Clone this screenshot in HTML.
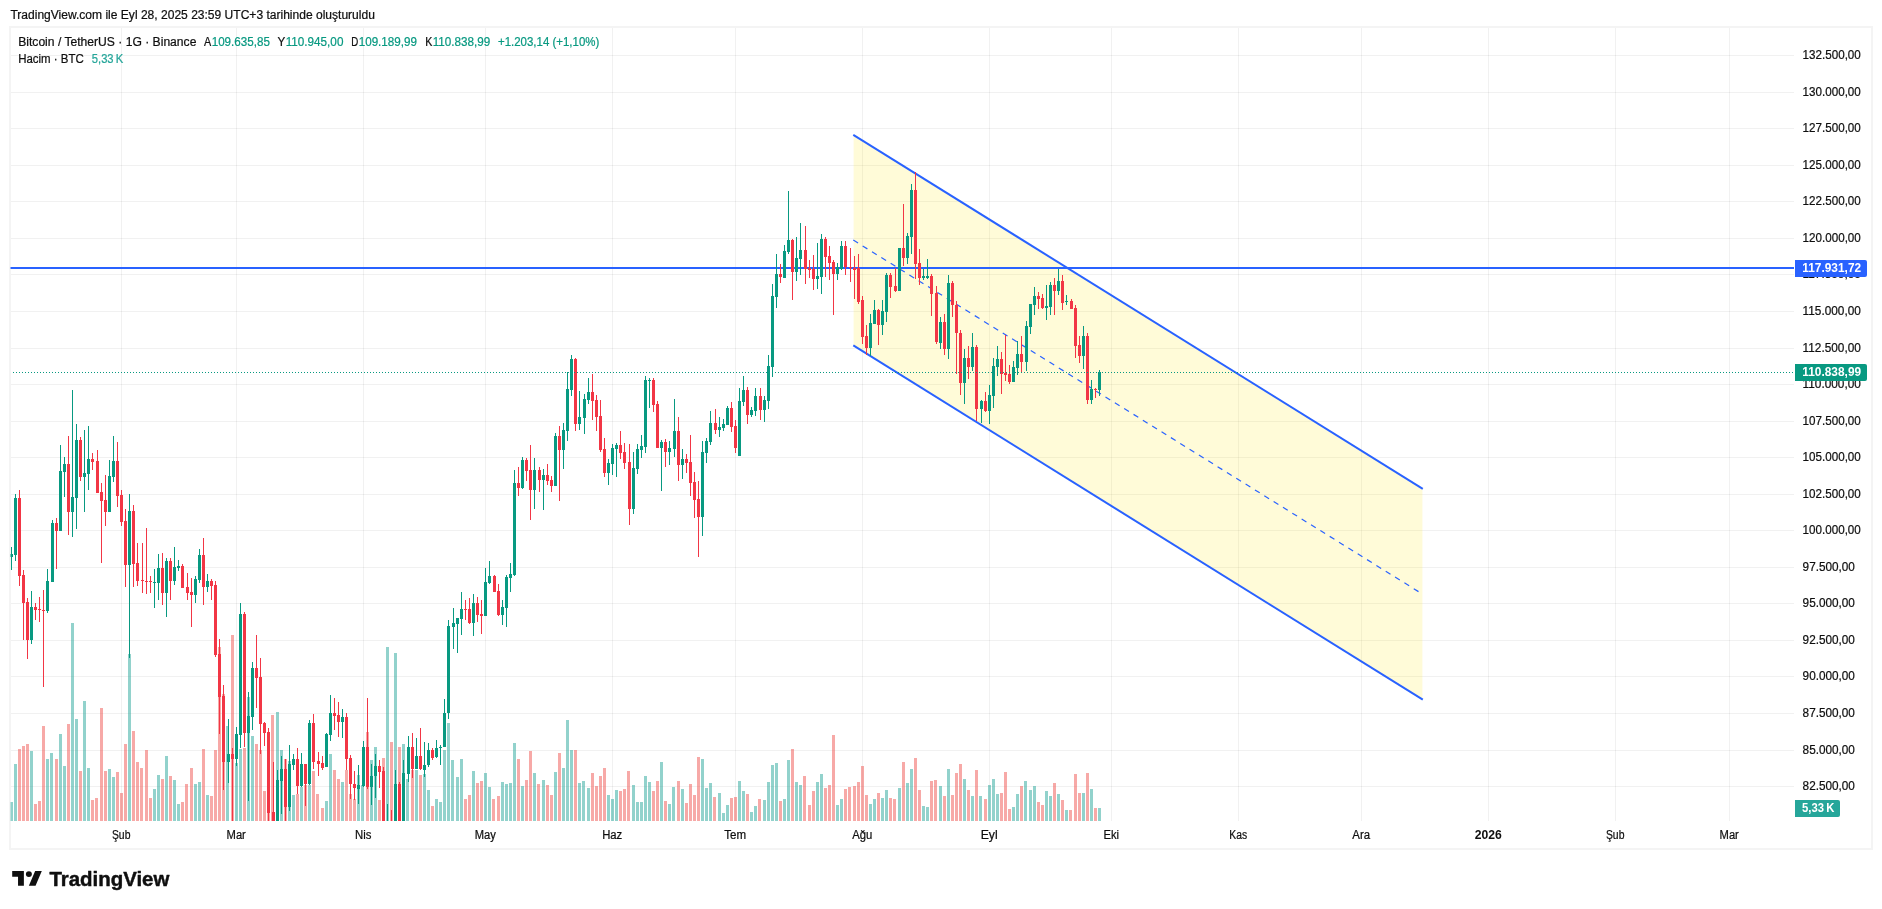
<!DOCTYPE html><html><head><meta charset="utf-8"><title>BTCUSDT</title><style>
html,body{margin:0;padding:0;background:#fff;overflow:hidden}
svg{display:block;will-change:transform;font-family:"Liberation Sans",sans-serif}
text{font-family:"Liberation Sans",sans-serif;font-size:12px;fill:#0f0f0f;stroke:#0f0f0f;stroke-width:0.22px}
.b{font-weight:bold;stroke:none}.w{fill:#fff;stroke:none}.g{fill:#089981;stroke:#089981}.t{fill:#26a69a;stroke:#26a69a}
</style></head><body>
<svg width="1882" height="909" viewBox="0 0 1882 909">
<rect width="1882" height="909" fill="#fff"/>
<g shape-rendering="crispEdges">
<g fill="#f4f4f4"><rect x="9" y="26" width="1864" height="2"/><rect x="9" y="848" width="1864" height="2"/><rect x="9" y="26" width="2" height="824"/><rect x="1871" y="26" width="2" height="824"/></g>
<g fill="rgba(20,20,20,0.06)"><rect x="121" y="28" width="1" height="793" /><rect x="236" y="28" width="1" height="793" /><rect x="363" y="28" width="1" height="793" /><rect x="485" y="28" width="1" height="793" /><rect x="612" y="28" width="1" height="793" /><rect x="735" y="28" width="1" height="793" /><rect x="862" y="28" width="1" height="793" /><rect x="989" y="28" width="1" height="793" /><rect x="1111" y="28" width="1" height="793" /><rect x="1238" y="28" width="1" height="793" /><rect x="1361" y="28" width="1" height="793" /><rect x="1488" y="28" width="1" height="793" /><rect x="1615" y="28" width="1" height="793" /><rect x="1729" y="28" width="1" height="793" /><rect x="11" y="55" width="1783" height="1" /><rect x="11" y="92" width="1783" height="1" /><rect x="11" y="128" width="1783" height="1" /><rect x="11" y="165" width="1783" height="1" /><rect x="11" y="201" width="1783" height="1" /><rect x="11" y="238" width="1783" height="1" /><rect x="11" y="274" width="1783" height="1" /><rect x="11" y="311" width="1783" height="1" /><rect x="11" y="348" width="1783" height="1" /><rect x="11" y="384" width="1783" height="1" /><rect x="11" y="421" width="1783" height="1" /><rect x="11" y="457" width="1783" height="1" /><rect x="11" y="494" width="1783" height="1" /><rect x="11" y="530" width="1783" height="1" /><rect x="11" y="567" width="1783" height="1" /><rect x="11" y="603" width="1783" height="1" /><rect x="11" y="640" width="1783" height="1" /><rect x="11" y="676" width="1783" height="1" /><rect x="11" y="713" width="1783" height="1" /><rect x="11" y="750" width="1783" height="1" /><rect x="11" y="786" width="1783" height="1" /></g>
</g>
<defs><clipPath id="pane"><rect x="10.5" y="27.5" width="1783.5" height="793.5"/></clipPath></defs>
<g clip-path="url(#pane)">
<polygon points="853.6,134.9 1422.4,488.9 1422.4,699.7 853.6,345.4" fill="rgba(255,235,59,0.2)"/>
<g stroke="#2962ff" fill="none">
<line x1="853.3" y1="134.9" x2="1422.8" y2="488.9" stroke-width="2"/>
<line x1="853.3" y1="345.4" x2="1422.8" y2="699.7" stroke-width="2"/>
<line x1="853.3" y1="240.1" x2="1422.8" y2="594.3" stroke-width="1.2" stroke-dasharray="5.6 5.4"/>
</g>
<rect x="10" y="267" width="1784" height="2" fill="#2962ff" shape-rendering="crispEdges"/>
<g shape-rendering="crispEdges">
<g fill="rgba(38,166,154,0.5)"><rect x="10" y="802" width="3" height="19"/><rect x="14" y="764" width="3" height="57"/><rect x="30" y="751" width="3" height="70"/><rect x="46" y="759" width="3" height="62"/><rect x="50" y="753" width="3" height="68"/><rect x="59" y="734" width="3" height="87"/><rect x="63" y="766" width="3" height="55"/><rect x="71" y="623" width="3" height="198"/><rect x="75" y="719" width="3" height="102"/><rect x="83" y="701" width="3" height="120"/><rect x="87" y="768" width="3" height="53"/><rect x="108" y="769" width="3" height="52"/><rect x="112" y="777" width="3" height="44"/><rect x="128" y="654" width="3" height="167"/><rect x="153" y="789" width="3" height="32"/><rect x="157" y="775" width="3" height="46"/><rect x="165" y="756" width="3" height="65"/><rect x="173" y="780" width="3" height="41"/><rect x="177" y="804" width="3" height="17"/><rect x="194" y="784" width="3" height="37"/><rect x="198" y="782" width="3" height="39"/><rect x="206" y="795" width="3" height="26"/><rect x="226" y="726" width="3" height="95"/><rect x="235" y="763" width="3" height="58"/><rect x="239" y="749" width="3" height="72"/><rect x="247" y="697" width="3" height="124"/><rect x="251" y="736" width="3" height="85"/><rect x="276" y="712" width="3" height="109"/><rect x="280" y="750" width="3" height="71"/><rect x="288" y="761" width="3" height="60"/><rect x="292" y="795" width="3" height="26"/><rect x="300" y="787" width="3" height="34"/><rect x="308" y="785" width="3" height="36"/><rect x="325" y="801" width="3" height="20"/><rect x="329" y="754" width="3" height="67"/><rect x="341" y="782" width="3" height="39"/><rect x="357" y="775" width="3" height="46"/><rect x="361" y="785" width="3" height="36"/><rect x="370" y="760" width="3" height="61"/><rect x="374" y="747" width="3" height="74"/><rect x="386" y="647" width="3" height="174"/><rect x="394" y="653" width="3" height="168"/><rect x="402" y="744" width="3" height="77"/><rect x="406" y="779" width="3" height="42"/><rect x="415" y="770" width="3" height="51"/><rect x="423" y="774" width="3" height="47"/><rect x="427" y="790" width="3" height="31"/><rect x="435" y="799" width="3" height="22"/><rect x="439" y="802" width="3" height="19"/><rect x="443" y="750" width="3" height="71"/><rect x="447" y="723" width="3" height="98"/><rect x="451" y="760" width="3" height="61"/><rect x="456" y="777" width="3" height="44"/><rect x="460" y="759" width="3" height="62"/><rect x="472" y="771" width="3" height="50"/><rect x="484" y="773" width="3" height="48"/><rect x="488" y="787" width="3" height="34"/><rect x="501" y="782" width="3" height="39"/><rect x="505" y="784" width="3" height="37"/><rect x="509" y="783" width="3" height="38"/><rect x="513" y="743" width="3" height="78"/><rect x="521" y="786" width="3" height="35"/><rect x="533" y="773" width="3" height="48"/><rect x="542" y="780" width="3" height="41"/><rect x="554" y="772" width="3" height="49"/><rect x="562" y="768" width="3" height="53"/><rect x="566" y="720" width="3" height="101"/><rect x="570" y="750" width="3" height="71"/><rect x="578" y="783" width="3" height="38"/><rect x="582" y="781" width="3" height="40"/><rect x="587" y="788" width="3" height="33"/><rect x="607" y="795" width="3" height="26"/><rect x="611" y="799" width="3" height="22"/><rect x="615" y="790" width="3" height="31"/><rect x="632" y="785" width="3" height="36"/><rect x="636" y="802" width="3" height="19"/><rect x="640" y="802" width="3" height="19"/><rect x="644" y="776" width="3" height="45"/><rect x="648" y="782" width="3" height="39"/><rect x="660" y="762" width="3" height="59"/><rect x="668" y="804" width="3" height="17"/><rect x="672" y="787" width="3" height="34"/><rect x="681" y="789" width="3" height="32"/><rect x="701" y="759" width="3" height="62"/><rect x="705" y="788" width="3" height="33"/><rect x="709" y="783" width="3" height="38"/><rect x="718" y="793" width="3" height="28"/><rect x="722" y="813" width="3" height="8"/><rect x="726" y="805" width="3" height="16"/><rect x="738" y="781" width="3" height="40"/><rect x="742" y="791" width="3" height="30"/><rect x="750" y="812" width="3" height="9"/><rect x="754" y="806" width="3" height="15"/><rect x="763" y="800" width="3" height="21"/><rect x="767" y="782" width="3" height="39"/><rect x="771" y="765" width="3" height="56"/><rect x="775" y="763" width="3" height="58"/><rect x="783" y="799" width="3" height="22"/><rect x="787" y="760" width="3" height="61"/><rect x="795" y="782" width="3" height="39"/><rect x="799" y="785" width="3" height="36"/><rect x="816" y="782" width="3" height="39"/><rect x="820" y="774" width="3" height="47"/><rect x="836" y="805" width="3" height="16"/><rect x="840" y="799" width="3" height="22"/><rect x="869" y="804" width="3" height="17"/><rect x="873" y="799" width="3" height="22"/><rect x="881" y="798" width="3" height="23"/><rect x="885" y="790" width="3" height="31"/><rect x="898" y="788" width="3" height="33"/><rect x="906" y="783" width="3" height="38"/><rect x="910" y="769" width="3" height="52"/><rect x="922" y="806" width="3" height="15"/><rect x="926" y="807" width="3" height="14"/><rect x="939" y="786" width="3" height="35"/><rect x="947" y="769" width="3" height="52"/><rect x="963" y="779" width="3" height="42"/><rect x="971" y="796" width="3" height="25"/><rect x="979" y="796" width="3" height="25"/><rect x="988" y="785" width="3" height="36"/><rect x="992" y="779" width="3" height="42"/><rect x="996" y="794" width="3" height="27"/><rect x="1012" y="807" width="3" height="14"/><rect x="1016" y="794" width="3" height="27"/><rect x="1024" y="781" width="3" height="40"/><rect x="1029" y="790" width="3" height="31"/><rect x="1033" y="786" width="3" height="35"/><rect x="1045" y="791" width="3" height="30"/><rect x="1049" y="796" width="3" height="25"/><rect x="1057" y="794" width="3" height="27"/><rect x="1065" y="810" width="3" height="11"/><rect x="1082" y="793" width="3" height="28"/><rect x="1090" y="789" width="3" height="32"/><rect x="1098" y="808" width="3" height="13"/></g>
<g fill="rgba(239,83,80,0.5)"><rect x="18" y="749" width="3" height="72"/><rect x="22" y="746" width="3" height="75"/><rect x="26" y="744" width="3" height="77"/><rect x="34" y="804" width="3" height="17"/><rect x="38" y="801" width="3" height="20"/><rect x="42" y="726" width="3" height="95"/><rect x="55" y="759" width="3" height="62"/><rect x="67" y="724" width="3" height="97"/><rect x="79" y="771" width="3" height="50"/><rect x="91" y="800" width="3" height="21"/><rect x="95" y="798" width="3" height="23"/><rect x="100" y="708" width="3" height="113"/><rect x="104" y="771" width="3" height="50"/><rect x="116" y="772" width="3" height="49"/><rect x="120" y="793" width="3" height="28"/><rect x="124" y="744" width="3" height="77"/><rect x="132" y="731" width="3" height="90"/><rect x="136" y="762" width="3" height="59"/><rect x="140" y="768" width="3" height="53"/><rect x="145" y="750" width="3" height="71"/><rect x="149" y="798" width="3" height="23"/><rect x="161" y="779" width="3" height="42"/><rect x="169" y="776" width="3" height="45"/><rect x="181" y="802" width="3" height="19"/><rect x="185" y="784" width="3" height="37"/><rect x="190" y="768" width="3" height="53"/><rect x="202" y="749" width="3" height="72"/><rect x="210" y="796" width="3" height="25"/><rect x="214" y="750" width="3" height="71"/><rect x="218" y="647" width="3" height="174"/><rect x="222" y="694" width="3" height="127"/><rect x="231" y="635" width="3" height="186"/><rect x="243" y="748" width="3" height="73"/><rect x="255" y="744" width="3" height="77"/><rect x="259" y="750" width="3" height="71"/><rect x="263" y="791" width="3" height="30"/><rect x="267" y="779" width="3" height="42"/><rect x="271" y="715" width="3" height="106"/><rect x="284" y="759" width="3" height="62"/><rect x="296" y="794" width="3" height="27"/><rect x="304" y="785" width="3" height="36"/><rect x="312" y="771" width="3" height="50"/><rect x="316" y="794" width="3" height="27"/><rect x="321" y="808" width="3" height="13"/><rect x="333" y="770" width="3" height="51"/><rect x="337" y="779" width="3" height="42"/><rect x="345" y="770" width="3" height="51"/><rect x="349" y="794" width="3" height="27"/><rect x="353" y="799" width="3" height="22"/><rect x="366" y="732" width="3" height="89"/><rect x="378" y="800" width="3" height="21"/><rect x="382" y="758" width="3" height="63"/><rect x="390" y="742" width="3" height="79"/><rect x="398" y="747" width="3" height="74"/><rect x="411" y="770" width="3" height="51"/><rect x="419" y="775" width="3" height="46"/><rect x="431" y="806" width="3" height="15"/><rect x="464" y="799" width="3" height="22"/><rect x="468" y="795" width="3" height="26"/><rect x="476" y="783" width="3" height="38"/><rect x="480" y="781" width="3" height="40"/><rect x="492" y="799" width="3" height="22"/><rect x="497" y="796" width="3" height="25"/><rect x="517" y="759" width="3" height="62"/><rect x="525" y="780" width="3" height="41"/><rect x="529" y="751" width="3" height="70"/><rect x="537" y="784" width="3" height="37"/><rect x="546" y="785" width="3" height="36"/><rect x="550" y="795" width="3" height="26"/><rect x="558" y="753" width="3" height="68"/><rect x="574" y="750" width="3" height="71"/><rect x="591" y="773" width="3" height="48"/><rect x="595" y="786" width="3" height="35"/><rect x="599" y="776" width="3" height="45"/><rect x="603" y="768" width="3" height="53"/><rect x="619" y="791" width="3" height="30"/><rect x="623" y="789" width="3" height="32"/><rect x="627" y="771" width="3" height="50"/><rect x="652" y="791" width="3" height="30"/><rect x="656" y="781" width="3" height="40"/><rect x="664" y="801" width="3" height="20"/><rect x="677" y="781" width="3" height="40"/><rect x="685" y="803" width="3" height="18"/><rect x="689" y="784" width="3" height="37"/><rect x="693" y="795" width="3" height="26"/><rect x="697" y="757" width="3" height="64"/><rect x="713" y="797" width="3" height="24"/><rect x="730" y="798" width="3" height="23"/><rect x="734" y="797" width="3" height="24"/><rect x="746" y="794" width="3" height="27"/><rect x="758" y="799" width="3" height="22"/><rect x="779" y="801" width="3" height="20"/><rect x="791" y="749" width="3" height="72"/><rect x="803" y="776" width="3" height="45"/><rect x="808" y="805" width="3" height="16"/><rect x="812" y="791" width="3" height="30"/><rect x="824" y="788" width="3" height="33"/><rect x="828" y="785" width="3" height="36"/><rect x="832" y="735" width="3" height="86"/><rect x="844" y="789" width="3" height="32"/><rect x="848" y="787" width="3" height="34"/><rect x="853" y="786" width="3" height="35"/><rect x="857" y="782" width="3" height="39"/><rect x="861" y="766" width="3" height="55"/><rect x="865" y="795" width="3" height="26"/><rect x="877" y="793" width="3" height="28"/><rect x="889" y="798" width="3" height="23"/><rect x="893" y="799" width="3" height="22"/><rect x="902" y="762" width="3" height="59"/><rect x="914" y="758" width="3" height="63"/><rect x="918" y="790" width="3" height="31"/><rect x="930" y="781" width="3" height="40"/><rect x="934" y="780" width="3" height="41"/><rect x="943" y="796" width="3" height="25"/><rect x="951" y="795" width="3" height="26"/><rect x="955" y="773" width="3" height="48"/><rect x="959" y="764" width="3" height="57"/><rect x="967" y="790" width="3" height="31"/><rect x="975" y="770" width="3" height="51"/><rect x="984" y="799" width="3" height="22"/><rect x="1000" y="793" width="3" height="28"/><rect x="1004" y="772" width="3" height="49"/><rect x="1008" y="809" width="3" height="12"/><rect x="1020" y="786" width="3" height="35"/><rect x="1037" y="802" width="3" height="19"/><rect x="1041" y="805" width="3" height="16"/><rect x="1053" y="783" width="3" height="38"/><rect x="1061" y="800" width="3" height="21"/><rect x="1069" y="810" width="3" height="11"/><rect x="1074" y="774" width="3" height="47"/><rect x="1078" y="793" width="3" height="28"/><rect x="1086" y="773" width="3" height="48"/><rect x="1094" y="808" width="3" height="13"/></g>
<g fill="#089981"><rect x="11" y="547" width="1" height="23"/><rect x="10" y="554" width="3" height="3"/><rect x="15" y="494" width="1" height="67"/><rect x="14" y="498" width="3" height="57"/><rect x="31" y="591" width="1" height="53"/><rect x="30" y="607" width="3" height="33"/><rect x="47" y="569" width="1" height="44"/><rect x="46" y="581" width="3" height="30"/><rect x="52" y="520" width="1" height="62"/><rect x="51" y="523" width="3" height="59"/><rect x="60" y="445" width="1" height="86"/><rect x="59" y="471" width="3" height="60"/><rect x="64" y="457" width="1" height="40"/><rect x="63" y="464" width="3" height="8"/><rect x="72" y="390" width="1" height="147"/><rect x="71" y="497" width="3" height="15"/><rect x="76" y="424" width="1" height="105"/><rect x="75" y="440" width="3" height="58"/><rect x="84" y="430" width="1" height="82"/><rect x="83" y="473" width="3" height="4"/><rect x="88" y="426" width="1" height="64"/><rect x="87" y="459" width="3" height="15"/><rect x="109" y="460" width="1" height="52"/><rect x="108" y="476" width="3" height="36"/><rect x="113" y="436" width="1" height="46"/><rect x="112" y="461" width="3" height="16"/><rect x="129" y="494" width="1" height="164"/><rect x="128" y="511" width="3" height="54"/><rect x="154" y="569" width="1" height="39"/><rect x="153" y="582" width="3" height="1"/><rect x="158" y="554" width="1" height="46"/><rect x="157" y="568" width="3" height="15"/><rect x="166" y="558" width="1" height="59"/><rect x="165" y="561" width="3" height="32"/><rect x="174" y="547" width="1" height="38"/><rect x="173" y="567" width="3" height="14"/><rect x="178" y="560" width="1" height="11"/><rect x="177" y="566" width="3" height="2"/><rect x="195" y="576" width="1" height="27"/><rect x="194" y="579" width="3" height="16"/><rect x="199" y="549" width="1" height="34"/><rect x="198" y="555" width="3" height="25"/><rect x="207" y="574" width="1" height="18"/><rect x="206" y="581" width="3" height="6"/><rect x="228" y="719" width="1" height="64"/><rect x="227" y="754" width="3" height="8"/><rect x="236" y="727" width="1" height="39"/><rect x="235" y="734" width="3" height="25"/><rect x="240" y="603" width="1" height="145"/><rect x="239" y="614" width="3" height="121"/><rect x="248" y="692" width="1" height="109"/><rect x="247" y="716" width="3" height="17"/><rect x="252" y="662" width="1" height="68"/><rect x="251" y="668" width="3" height="49"/><rect x="277" y="770" width="1" height="54"/><rect x="276" y="780" width="3" height="44"/><rect x="281" y="756" width="1" height="58"/><rect x="280" y="769" width="3" height="12"/><rect x="289" y="745" width="1" height="66"/><rect x="288" y="764" width="3" height="43"/><rect x="293" y="754" width="1" height="16"/><rect x="292" y="759" width="3" height="6"/><rect x="301" y="753" width="1" height="34"/><rect x="300" y="764" width="3" height="22"/><rect x="309" y="720" width="1" height="65"/><rect x="308" y="723" width="3" height="61"/><rect x="326" y="733" width="1" height="34"/><rect x="325" y="734" width="3" height="33"/><rect x="330" y="695" width="1" height="46"/><rect x="329" y="713" width="3" height="22"/><rect x="342" y="709" width="1" height="29"/><rect x="341" y="717" width="3" height="5"/><rect x="358" y="765" width="1" height="39"/><rect x="357" y="785" width="3" height="4"/><rect x="363" y="741" width="1" height="46"/><rect x="362" y="747" width="3" height="39"/><rect x="371" y="764" width="1" height="41"/><rect x="370" y="776" width="3" height="11"/><rect x="375" y="754" width="1" height="44"/><rect x="374" y="766" width="3" height="10"/><rect x="387" y="804" width="1" height="20"/><rect x="386" y="824" width="3" height="1"/><rect x="395" y="770" width="1" height="54"/><rect x="394" y="784" width="3" height="40"/><rect x="403" y="760" width="1" height="64"/><rect x="402" y="773" width="3" height="51"/><rect x="408" y="736" width="1" height="46"/><rect x="407" y="747" width="3" height="27"/><rect x="416" y="738" width="1" height="31"/><rect x="415" y="756" width="3" height="13"/><rect x="424" y="742" width="1" height="35"/><rect x="423" y="765" width="3" height="5"/><rect x="428" y="743" width="1" height="24"/><rect x="427" y="750" width="3" height="15"/><rect x="436" y="740" width="1" height="18"/><rect x="435" y="748" width="3" height="9"/><rect x="440" y="745" width="1" height="20"/><rect x="439" y="747" width="3" height="1"/><rect x="444" y="699" width="1" height="48"/><rect x="443" y="713" width="3" height="34"/><rect x="448" y="620" width="1" height="99"/><rect x="447" y="626" width="3" height="87"/><rect x="453" y="608" width="1" height="41"/><rect x="452" y="623" width="3" height="4"/><rect x="457" y="618" width="1" height="35"/><rect x="456" y="618" width="3" height="6"/><rect x="461" y="592" width="1" height="43"/><rect x="460" y="609" width="3" height="10"/><rect x="473" y="594" width="1" height="42"/><rect x="472" y="603" width="3" height="20"/><rect x="485" y="568" width="1" height="48"/><rect x="484" y="582" width="3" height="34"/><rect x="489" y="561" width="1" height="23"/><rect x="488" y="576" width="3" height="7"/><rect x="502" y="600" width="1" height="25"/><rect x="501" y="607" width="3" height="8"/><rect x="506" y="575" width="1" height="52"/><rect x="505" y="577" width="3" height="31"/><rect x="510" y="563" width="1" height="29"/><rect x="509" y="574" width="3" height="4"/><rect x="514" y="470" width="1" height="106"/><rect x="513" y="483" width="3" height="92"/><rect x="522" y="457" width="1" height="32"/><rect x="521" y="460" width="3" height="28"/><rect x="534" y="458" width="1" height="51"/><rect x="533" y="470" width="3" height="20"/><rect x="543" y="469" width="1" height="41"/><rect x="542" y="475" width="3" height="5"/><rect x="555" y="433" width="1" height="53"/><rect x="554" y="436" width="3" height="50"/><rect x="563" y="423" width="1" height="46"/><rect x="562" y="430" width="3" height="20"/><rect x="567" y="372" width="1" height="69"/><rect x="566" y="389" width="3" height="42"/><rect x="571" y="355" width="1" height="41"/><rect x="570" y="359" width="3" height="31"/><rect x="579" y="391" width="1" height="39"/><rect x="578" y="417" width="3" height="7"/><rect x="584" y="394" width="1" height="40"/><rect x="583" y="399" width="3" height="19"/><rect x="588" y="378" width="1" height="26"/><rect x="587" y="392" width="3" height="8"/><rect x="608" y="459" width="1" height="26"/><rect x="607" y="463" width="3" height="10"/><rect x="612" y="444" width="1" height="31"/><rect x="611" y="448" width="3" height="16"/><rect x="616" y="443" width="1" height="34"/><rect x="615" y="445" width="3" height="4"/><rect x="633" y="452" width="1" height="62"/><rect x="632" y="468" width="3" height="41"/><rect x="637" y="444" width="1" height="30"/><rect x="636" y="449" width="3" height="20"/><rect x="641" y="435" width="1" height="23"/><rect x="640" y="446" width="3" height="4"/><rect x="645" y="376" width="1" height="77"/><rect x="644" y="380" width="3" height="67"/><rect x="649" y="378" width="1" height="30"/><rect x="648" y="380" width="3" height="1"/><rect x="661" y="440" width="1" height="51"/><rect x="660" y="442" width="3" height="6"/><rect x="669" y="441" width="1" height="24"/><rect x="668" y="448" width="3" height="4"/><rect x="674" y="399" width="1" height="58"/><rect x="673" y="431" width="3" height="18"/><rect x="682" y="449" width="1" height="30"/><rect x="681" y="459" width="3" height="6"/><rect x="702" y="441" width="1" height="95"/><rect x="701" y="452" width="3" height="65"/><rect x="706" y="438" width="1" height="25"/><rect x="705" y="441" width="3" height="12"/><rect x="710" y="411" width="1" height="34"/><rect x="709" y="423" width="3" height="19"/><rect x="719" y="417" width="1" height="20"/><rect x="718" y="427" width="3" height="3"/><rect x="723" y="419" width="1" height="12"/><rect x="722" y="424" width="3" height="4"/><rect x="727" y="406" width="1" height="19"/><rect x="726" y="408" width="3" height="17"/><rect x="739" y="388" width="1" height="68"/><rect x="738" y="401" width="3" height="55"/><rect x="743" y="376" width="1" height="30"/><rect x="742" y="390" width="3" height="12"/><rect x="751" y="407" width="1" height="10"/><rect x="750" y="410" width="3" height="5"/><rect x="755" y="388" width="1" height="28"/><rect x="754" y="396" width="3" height="15"/><rect x="764" y="396" width="1" height="26"/><rect x="763" y="400" width="3" height="10"/><rect x="768" y="355" width="1" height="54"/><rect x="767" y="366" width="3" height="35"/><rect x="772" y="284" width="1" height="93"/><rect x="771" y="296" width="3" height="71"/><rect x="776" y="254" width="1" height="54"/><rect x="775" y="274" width="3" height="23"/><rect x="784" y="245" width="1" height="33"/><rect x="783" y="251" width="3" height="27"/><rect x="788" y="191" width="1" height="63"/><rect x="787" y="240" width="3" height="12"/><rect x="796" y="237" width="1" height="44"/><rect x="795" y="258" width="3" height="14"/><rect x="800" y="223" width="1" height="52"/><rect x="799" y="250" width="3" height="9"/><rect x="817" y="243" width="1" height="46"/><rect x="816" y="276" width="3" height="3"/><rect x="821" y="234" width="1" height="60"/><rect x="820" y="239" width="3" height="38"/><rect x="837" y="263" width="1" height="17"/><rect x="836" y="267" width="3" height="7"/><rect x="841" y="241" width="1" height="29"/><rect x="840" y="246" width="3" height="23"/><rect x="870" y="314" width="1" height="42"/><rect x="869" y="323" width="3" height="25"/><rect x="874" y="300" width="1" height="24"/><rect x="873" y="310" width="3" height="14"/><rect x="882" y="300" width="1" height="35"/><rect x="881" y="311" width="3" height="14"/><rect x="886" y="273" width="1" height="49"/><rect x="885" y="275" width="3" height="37"/><rect x="899" y="248" width="1" height="43"/><rect x="898" y="248" width="3" height="43"/><rect x="907" y="233" width="1" height="31"/><rect x="906" y="236" width="3" height="22"/><rect x="911" y="184" width="1" height="70"/><rect x="910" y="190" width="3" height="47"/><rect x="923" y="269" width="1" height="11"/><rect x="922" y="276" width="3" height="2"/><rect x="927" y="259" width="1" height="20"/><rect x="926" y="276" width="3" height="2"/><rect x="940" y="317" width="1" height="32"/><rect x="939" y="322" width="3" height="21"/><rect x="948" y="275" width="1" height="84"/><rect x="947" y="283" width="3" height="66"/><rect x="964" y="349" width="1" height="55"/><rect x="963" y="358" width="3" height="25"/><rect x="972" y="333" width="1" height="38"/><rect x="971" y="347" width="3" height="20"/><rect x="981" y="400" width="1" height="23"/><rect x="980" y="401" width="3" height="8"/><rect x="989" y="385" width="1" height="39"/><rect x="988" y="395" width="3" height="16"/><rect x="993" y="358" width="1" height="50"/><rect x="992" y="366" width="3" height="30"/><rect x="997" y="346" width="1" height="30"/><rect x="996" y="359" width="3" height="8"/><rect x="1013" y="361" width="1" height="21"/><rect x="1012" y="367" width="3" height="15"/><rect x="1017" y="341" width="1" height="34"/><rect x="1016" y="354" width="3" height="14"/><rect x="1026" y="321" width="1" height="50"/><rect x="1025" y="326" width="3" height="36"/><rect x="1030" y="304" width="1" height="30"/><rect x="1029" y="304" width="3" height="23"/><rect x="1034" y="287" width="1" height="28"/><rect x="1033" y="296" width="3" height="9"/><rect x="1046" y="285" width="1" height="35"/><rect x="1045" y="306" width="3" height="2"/><rect x="1050" y="282" width="1" height="33"/><rect x="1049" y="285" width="3" height="22"/><rect x="1058" y="269" width="1" height="26"/><rect x="1057" y="281" width="3" height="10"/><rect x="1066" y="295" width="1" height="10"/><rect x="1065" y="301" width="3" height="1"/><rect x="1083" y="326" width="1" height="43"/><rect x="1082" y="336" width="3" height="20"/><rect x="1091" y="380" width="1" height="24"/><rect x="1090" y="389" width="3" height="11"/><rect x="1099" y="370" width="1" height="26"/><rect x="1098" y="372" width="3" height="18"/></g>
<g fill="#f23645"><rect x="19" y="490" width="1" height="96"/><rect x="18" y="498" width="3" height="78"/><rect x="23" y="570" width="1" height="70"/><rect x="22" y="575" width="3" height="28"/><rect x="27" y="598" width="1" height="61"/><rect x="26" y="602" width="3" height="38"/><rect x="35" y="603" width="1" height="17"/><rect x="34" y="607" width="3" height="3"/><rect x="39" y="597" width="1" height="25"/><rect x="38" y="609" width="3" height="1"/><rect x="43" y="590" width="1" height="97"/><rect x="42" y="610" width="3" height="1"/><rect x="56" y="518" width="1" height="51"/><rect x="55" y="523" width="3" height="8"/><rect x="68" y="436" width="1" height="99"/><rect x="67" y="464" width="3" height="48"/><rect x="80" y="437" width="1" height="44"/><rect x="79" y="440" width="3" height="37"/><rect x="92" y="453" width="1" height="17"/><rect x="91" y="459" width="3" height="3"/><rect x="97" y="450" width="1" height="43"/><rect x="96" y="461" width="3" height="32"/><rect x="101" y="483" width="1" height="80"/><rect x="100" y="492" width="3" height="9"/><rect x="105" y="475" width="1" height="51"/><rect x="104" y="500" width="3" height="12"/><rect x="117" y="442" width="1" height="65"/><rect x="116" y="461" width="3" height="35"/><rect x="121" y="490" width="1" height="36"/><rect x="120" y="495" width="3" height="27"/><rect x="125" y="509" width="1" height="78"/><rect x="124" y="521" width="3" height="44"/><rect x="133" y="505" width="1" height="82"/><rect x="132" y="511" width="3" height="53"/><rect x="137" y="543" width="1" height="43"/><rect x="136" y="563" width="3" height="18"/><rect x="142" y="543" width="1" height="50"/><rect x="141" y="580" width="3" height="1"/><rect x="146" y="528" width="1" height="66"/><rect x="145" y="581" width="3" height="1"/><rect x="150" y="576" width="1" height="17"/><rect x="149" y="581" width="3" height="1"/><rect x="162" y="553" width="1" height="52"/><rect x="161" y="568" width="3" height="25"/><rect x="170" y="558" width="1" height="42"/><rect x="169" y="561" width="3" height="20"/><rect x="182" y="564" width="1" height="24"/><rect x="181" y="566" width="3" height="22"/><rect x="187" y="573" width="1" height="27"/><rect x="186" y="587" width="3" height="6"/><rect x="191" y="578" width="1" height="49"/><rect x="190" y="592" width="3" height="3"/><rect x="203" y="538" width="1" height="67"/><rect x="202" y="555" width="3" height="32"/><rect x="211" y="579" width="1" height="21"/><rect x="210" y="581" width="3" height="5"/><rect x="215" y="581" width="1" height="76"/><rect x="214" y="585" width="3" height="70"/><rect x="219" y="639" width="1" height="95"/><rect x="218" y="654" width="3" height="43"/><rect x="223" y="685" width="1" height="105"/><rect x="222" y="696" width="3" height="66"/><rect x="232" y="748" width="1" height="76"/><rect x="231" y="754" width="3" height="5"/><rect x="244" y="612" width="1" height="135"/><rect x="243" y="614" width="3" height="119"/><rect x="256" y="635" width="1" height="73"/><rect x="255" y="668" width="3" height="10"/><rect x="260" y="658" width="1" height="96"/><rect x="259" y="677" width="3" height="47"/><rect x="264" y="722" width="1" height="24"/><rect x="263" y="723" width="3" height="10"/><rect x="268" y="728" width="1" height="96"/><rect x="267" y="732" width="3" height="81"/><rect x="273" y="762" width="1" height="62"/><rect x="272" y="812" width="3" height="12"/><rect x="285" y="759" width="1" height="65"/><rect x="284" y="769" width="3" height="38"/><rect x="297" y="748" width="1" height="46"/><rect x="296" y="759" width="3" height="27"/><rect x="305" y="764" width="1" height="42"/><rect x="304" y="764" width="3" height="20"/><rect x="313" y="714" width="1" height="55"/><rect x="312" y="723" width="3" height="39"/><rect x="318" y="752" width="1" height="24"/><rect x="317" y="761" width="3" height="3"/><rect x="322" y="756" width="1" height="14"/><rect x="321" y="763" width="3" height="5"/><rect x="334" y="698" width="1" height="32"/><rect x="333" y="713" width="3" height="3"/><rect x="338" y="702" width="1" height="35"/><rect x="337" y="715" width="3" height="7"/><rect x="346" y="713" width="1" height="57"/><rect x="345" y="717" width="3" height="42"/><rect x="350" y="755" width="1" height="44"/><rect x="349" y="758" width="3" height="26"/><rect x="354" y="771" width="1" height="29"/><rect x="353" y="784" width="3" height="4"/><rect x="367" y="698" width="1" height="91"/><rect x="366" y="747" width="3" height="40"/><rect x="379" y="760" width="1" height="28"/><rect x="378" y="766" width="3" height="6"/><rect x="383" y="767" width="1" height="57"/><rect x="382" y="771" width="3" height="53"/><rect x="391" y="810" width="1" height="14"/><rect x="390" y="824" width="3" height="1"/><rect x="399" y="782" width="1" height="42"/><rect x="398" y="784" width="3" height="40"/><rect x="412" y="733" width="1" height="45"/><rect x="411" y="747" width="3" height="22"/><rect x="420" y="728" width="1" height="42"/><rect x="419" y="756" width="3" height="13"/><rect x="432" y="748" width="1" height="12"/><rect x="431" y="750" width="3" height="8"/><rect x="465" y="600" width="1" height="20"/><rect x="464" y="609" width="3" height="1"/><rect x="469" y="598" width="1" height="26"/><rect x="468" y="609" width="3" height="14"/><rect x="477" y="597" width="1" height="25"/><rect x="476" y="603" width="3" height="12"/><rect x="481" y="600" width="1" height="34"/><rect x="480" y="614" width="3" height="2"/><rect x="494" y="575" width="1" height="17"/><rect x="493" y="576" width="3" height="16"/><rect x="498" y="584" width="1" height="32"/><rect x="497" y="591" width="3" height="24"/><rect x="518" y="467" width="1" height="29"/><rect x="517" y="483" width="3" height="5"/><rect x="526" y="458" width="1" height="23"/><rect x="525" y="460" width="3" height="11"/><rect x="530" y="445" width="1" height="75"/><rect x="529" y="470" width="3" height="20"/><rect x="539" y="467" width="1" height="25"/><rect x="538" y="470" width="3" height="10"/><rect x="547" y="464" width="1" height="21"/><rect x="546" y="475" width="3" height="6"/><rect x="551" y="476" width="1" height="16"/><rect x="550" y="480" width="3" height="6"/><rect x="559" y="426" width="1" height="75"/><rect x="558" y="436" width="3" height="14"/><rect x="575" y="358" width="1" height="73"/><rect x="574" y="359" width="3" height="65"/><rect x="592" y="374" width="1" height="46"/><rect x="591" y="392" width="3" height="9"/><rect x="596" y="395" width="1" height="36"/><rect x="595" y="400" width="3" height="17"/><rect x="600" y="400" width="1" height="52"/><rect x="599" y="416" width="3" height="34"/><rect x="604" y="438" width="1" height="39"/><rect x="603" y="449" width="3" height="24"/><rect x="620" y="431" width="1" height="28"/><rect x="619" y="445" width="3" height="8"/><rect x="624" y="443" width="1" height="26"/><rect x="623" y="452" width="3" height="11"/><rect x="629" y="444" width="1" height="81"/><rect x="628" y="462" width="3" height="47"/><rect x="653" y="378" width="1" height="34"/><rect x="652" y="380" width="3" height="25"/><rect x="657" y="401" width="1" height="47"/><rect x="656" y="404" width="3" height="44"/><rect x="665" y="439" width="1" height="28"/><rect x="664" y="442" width="3" height="10"/><rect x="678" y="417" width="1" height="64"/><rect x="677" y="431" width="3" height="34"/><rect x="686" y="454" width="1" height="19"/><rect x="685" y="459" width="3" height="4"/><rect x="690" y="435" width="1" height="61"/><rect x="689" y="462" width="3" height="21"/><rect x="694" y="472" width="1" height="46"/><rect x="693" y="482" width="3" height="18"/><rect x="698" y="481" width="1" height="76"/><rect x="697" y="499" width="3" height="18"/><rect x="715" y="409" width="1" height="25"/><rect x="714" y="423" width="3" height="7"/><rect x="731" y="402" width="1" height="30"/><rect x="730" y="408" width="3" height="19"/><rect x="735" y="420" width="1" height="33"/><rect x="734" y="426" width="3" height="22"/><rect x="747" y="387" width="1" height="37"/><rect x="746" y="390" width="3" height="25"/><rect x="760" y="388" width="1" height="32"/><rect x="759" y="396" width="3" height="14"/><rect x="780" y="264" width="1" height="19"/><rect x="779" y="274" width="3" height="3"/><rect x="792" y="239" width="1" height="61"/><rect x="791" y="240" width="3" height="32"/><rect x="805" y="226" width="1" height="58"/><rect x="804" y="250" width="3" height="19"/><rect x="809" y="260" width="1" height="18"/><rect x="808" y="268" width="3" height="2"/><rect x="813" y="255" width="1" height="35"/><rect x="812" y="269" width="3" height="10"/><rect x="825" y="237" width="1" height="40"/><rect x="824" y="239" width="3" height="18"/><rect x="829" y="246" width="1" height="34"/><rect x="828" y="256" width="3" height="7"/><rect x="833" y="260" width="1" height="55"/><rect x="832" y="262" width="3" height="12"/><rect x="845" y="241" width="1" height="34"/><rect x="844" y="246" width="3" height="21"/><rect x="850" y="248" width="1" height="34"/><rect x="849" y="267" width="3" height="1"/><rect x="854" y="256" width="1" height="43"/><rect x="853" y="268" width="3" height="2"/><rect x="858" y="254" width="1" height="50"/><rect x="857" y="268" width="3" height="34"/><rect x="862" y="296" width="1" height="48"/><rect x="861" y="300" width="3" height="37"/><rect x="866" y="325" width="1" height="30"/><rect x="865" y="336" width="3" height="12"/><rect x="878" y="309" width="1" height="36"/><rect x="877" y="310" width="3" height="15"/><rect x="890" y="273" width="1" height="25"/><rect x="889" y="275" width="3" height="12"/><rect x="895" y="268" width="1" height="24"/><rect x="894" y="286" width="3" height="5"/><rect x="903" y="204" width="1" height="62"/><rect x="902" y="248" width="3" height="10"/><rect x="915" y="172" width="1" height="107"/><rect x="914" y="190" width="3" height="74"/><rect x="919" y="249" width="1" height="36"/><rect x="918" y="263" width="3" height="15"/><rect x="931" y="274" width="1" height="42"/><rect x="930" y="276" width="3" height="18"/><rect x="936" y="286" width="1" height="58"/><rect x="935" y="293" width="3" height="49"/><rect x="944" y="314" width="1" height="41"/><rect x="943" y="322" width="3" height="27"/><rect x="952" y="281" width="1" height="36"/><rect x="951" y="283" width="3" height="22"/><rect x="956" y="301" width="1" height="73"/><rect x="955" y="305" width="3" height="28"/><rect x="960" y="330" width="1" height="65"/><rect x="959" y="333" width="3" height="50"/><rect x="968" y="346" width="1" height="33"/><rect x="967" y="358" width="3" height="9"/><rect x="976" y="345" width="1" height="76"/><rect x="975" y="347" width="3" height="62"/><rect x="985" y="392" width="1" height="20"/><rect x="984" y="401" width="3" height="10"/><rect x="1001" y="352" width="1" height="42"/><rect x="1000" y="359" width="3" height="15"/><rect x="1005" y="335" width="1" height="46"/><rect x="1004" y="373" width="3" height="2"/><rect x="1009" y="365" width="1" height="19"/><rect x="1008" y="374" width="3" height="8"/><rect x="1021" y="336" width="1" height="36"/><rect x="1020" y="354" width="3" height="8"/><rect x="1038" y="292" width="1" height="17"/><rect x="1037" y="296" width="3" height="3"/><rect x="1042" y="294" width="1" height="15"/><rect x="1041" y="298" width="3" height="10"/><rect x="1054" y="278" width="1" height="37"/><rect x="1053" y="285" width="3" height="6"/><rect x="1062" y="275" width="1" height="35"/><rect x="1061" y="281" width="3" height="22"/><rect x="1071" y="299" width="1" height="10"/><rect x="1070" y="301" width="3" height="8"/><rect x="1075" y="305" width="1" height="53"/><rect x="1074" y="308" width="3" height="38"/><rect x="1079" y="336" width="1" height="27"/><rect x="1078" y="345" width="3" height="11"/><rect x="1087" y="333" width="1" height="71"/><rect x="1086" y="336" width="3" height="64"/><rect x="1095" y="388" width="1" height="10"/><rect x="1094" y="389" width="3" height="1"/></g>
<g fill="#089981"><rect x="13" y="372" width="1" height="1"/><rect x="16" y="372" width="1" height="1"/><rect x="19" y="372" width="1" height="1"/><rect x="22" y="372" width="1" height="1"/><rect x="25" y="372" width="1" height="1"/><rect x="28" y="372" width="1" height="1"/><rect x="31" y="372" width="1" height="1"/><rect x="34" y="372" width="1" height="1"/><rect x="37" y="372" width="1" height="1"/><rect x="40" y="372" width="1" height="1"/><rect x="43" y="372" width="1" height="1"/><rect x="46" y="372" width="1" height="1"/><rect x="49" y="372" width="1" height="1"/><rect x="52" y="372" width="1" height="1"/><rect x="55" y="372" width="1" height="1"/><rect x="58" y="372" width="1" height="1"/><rect x="61" y="372" width="1" height="1"/><rect x="64" y="372" width="1" height="1"/><rect x="67" y="372" width="1" height="1"/><rect x="70" y="372" width="1" height="1"/><rect x="73" y="372" width="1" height="1"/><rect x="76" y="372" width="1" height="1"/><rect x="79" y="372" width="1" height="1"/><rect x="82" y="372" width="1" height="1"/><rect x="85" y="372" width="1" height="1"/><rect x="88" y="372" width="1" height="1"/><rect x="91" y="372" width="1" height="1"/><rect x="94" y="372" width="1" height="1"/><rect x="97" y="372" width="1" height="1"/><rect x="100" y="372" width="1" height="1"/><rect x="103" y="372" width="1" height="1"/><rect x="106" y="372" width="1" height="1"/><rect x="109" y="372" width="1" height="1"/><rect x="112" y="372" width="1" height="1"/><rect x="115" y="372" width="1" height="1"/><rect x="118" y="372" width="1" height="1"/><rect x="121" y="372" width="1" height="1"/><rect x="124" y="372" width="1" height="1"/><rect x="127" y="372" width="1" height="1"/><rect x="130" y="372" width="1" height="1"/><rect x="133" y="372" width="1" height="1"/><rect x="136" y="372" width="1" height="1"/><rect x="139" y="372" width="1" height="1"/><rect x="142" y="372" width="1" height="1"/><rect x="145" y="372" width="1" height="1"/><rect x="148" y="372" width="1" height="1"/><rect x="151" y="372" width="1" height="1"/><rect x="154" y="372" width="1" height="1"/><rect x="157" y="372" width="1" height="1"/><rect x="160" y="372" width="1" height="1"/><rect x="163" y="372" width="1" height="1"/><rect x="166" y="372" width="1" height="1"/><rect x="169" y="372" width="1" height="1"/><rect x="172" y="372" width="1" height="1"/><rect x="175" y="372" width="1" height="1"/><rect x="178" y="372" width="1" height="1"/><rect x="181" y="372" width="1" height="1"/><rect x="184" y="372" width="1" height="1"/><rect x="187" y="372" width="1" height="1"/><rect x="190" y="372" width="1" height="1"/><rect x="193" y="372" width="1" height="1"/><rect x="196" y="372" width="1" height="1"/><rect x="199" y="372" width="1" height="1"/><rect x="202" y="372" width="1" height="1"/><rect x="205" y="372" width="1" height="1"/><rect x="208" y="372" width="1" height="1"/><rect x="211" y="372" width="1" height="1"/><rect x="214" y="372" width="1" height="1"/><rect x="217" y="372" width="1" height="1"/><rect x="220" y="372" width="1" height="1"/><rect x="223" y="372" width="1" height="1"/><rect x="226" y="372" width="1" height="1"/><rect x="229" y="372" width="1" height="1"/><rect x="232" y="372" width="1" height="1"/><rect x="235" y="372" width="1" height="1"/><rect x="238" y="372" width="1" height="1"/><rect x="241" y="372" width="1" height="1"/><rect x="244" y="372" width="1" height="1"/><rect x="247" y="372" width="1" height="1"/><rect x="250" y="372" width="1" height="1"/><rect x="253" y="372" width="1" height="1"/><rect x="256" y="372" width="1" height="1"/><rect x="259" y="372" width="1" height="1"/><rect x="262" y="372" width="1" height="1"/><rect x="265" y="372" width="1" height="1"/><rect x="268" y="372" width="1" height="1"/><rect x="271" y="372" width="1" height="1"/><rect x="274" y="372" width="1" height="1"/><rect x="277" y="372" width="1" height="1"/><rect x="280" y="372" width="1" height="1"/><rect x="283" y="372" width="1" height="1"/><rect x="286" y="372" width="1" height="1"/><rect x="289" y="372" width="1" height="1"/><rect x="292" y="372" width="1" height="1"/><rect x="295" y="372" width="1" height="1"/><rect x="298" y="372" width="1" height="1"/><rect x="301" y="372" width="1" height="1"/><rect x="304" y="372" width="1" height="1"/><rect x="307" y="372" width="1" height="1"/><rect x="310" y="372" width="1" height="1"/><rect x="313" y="372" width="1" height="1"/><rect x="316" y="372" width="1" height="1"/><rect x="319" y="372" width="1" height="1"/><rect x="322" y="372" width="1" height="1"/><rect x="325" y="372" width="1" height="1"/><rect x="328" y="372" width="1" height="1"/><rect x="331" y="372" width="1" height="1"/><rect x="334" y="372" width="1" height="1"/><rect x="337" y="372" width="1" height="1"/><rect x="340" y="372" width="1" height="1"/><rect x="343" y="372" width="1" height="1"/><rect x="346" y="372" width="1" height="1"/><rect x="349" y="372" width="1" height="1"/><rect x="352" y="372" width="1" height="1"/><rect x="355" y="372" width="1" height="1"/><rect x="358" y="372" width="1" height="1"/><rect x="361" y="372" width="1" height="1"/><rect x="364" y="372" width="1" height="1"/><rect x="367" y="372" width="1" height="1"/><rect x="370" y="372" width="1" height="1"/><rect x="373" y="372" width="1" height="1"/><rect x="376" y="372" width="1" height="1"/><rect x="379" y="372" width="1" height="1"/><rect x="382" y="372" width="1" height="1"/><rect x="385" y="372" width="1" height="1"/><rect x="388" y="372" width="1" height="1"/><rect x="391" y="372" width="1" height="1"/><rect x="394" y="372" width="1" height="1"/><rect x="397" y="372" width="1" height="1"/><rect x="400" y="372" width="1" height="1"/><rect x="403" y="372" width="1" height="1"/><rect x="406" y="372" width="1" height="1"/><rect x="409" y="372" width="1" height="1"/><rect x="412" y="372" width="1" height="1"/><rect x="415" y="372" width="1" height="1"/><rect x="418" y="372" width="1" height="1"/><rect x="421" y="372" width="1" height="1"/><rect x="424" y="372" width="1" height="1"/><rect x="427" y="372" width="1" height="1"/><rect x="430" y="372" width="1" height="1"/><rect x="433" y="372" width="1" height="1"/><rect x="436" y="372" width="1" height="1"/><rect x="439" y="372" width="1" height="1"/><rect x="442" y="372" width="1" height="1"/><rect x="445" y="372" width="1" height="1"/><rect x="448" y="372" width="1" height="1"/><rect x="451" y="372" width="1" height="1"/><rect x="454" y="372" width="1" height="1"/><rect x="457" y="372" width="1" height="1"/><rect x="460" y="372" width="1" height="1"/><rect x="463" y="372" width="1" height="1"/><rect x="466" y="372" width="1" height="1"/><rect x="469" y="372" width="1" height="1"/><rect x="472" y="372" width="1" height="1"/><rect x="475" y="372" width="1" height="1"/><rect x="478" y="372" width="1" height="1"/><rect x="481" y="372" width="1" height="1"/><rect x="484" y="372" width="1" height="1"/><rect x="487" y="372" width="1" height="1"/><rect x="490" y="372" width="1" height="1"/><rect x="493" y="372" width="1" height="1"/><rect x="496" y="372" width="1" height="1"/><rect x="499" y="372" width="1" height="1"/><rect x="502" y="372" width="1" height="1"/><rect x="505" y="372" width="1" height="1"/><rect x="508" y="372" width="1" height="1"/><rect x="511" y="372" width="1" height="1"/><rect x="514" y="372" width="1" height="1"/><rect x="517" y="372" width="1" height="1"/><rect x="520" y="372" width="1" height="1"/><rect x="523" y="372" width="1" height="1"/><rect x="526" y="372" width="1" height="1"/><rect x="529" y="372" width="1" height="1"/><rect x="532" y="372" width="1" height="1"/><rect x="535" y="372" width="1" height="1"/><rect x="538" y="372" width="1" height="1"/><rect x="541" y="372" width="1" height="1"/><rect x="544" y="372" width="1" height="1"/><rect x="547" y="372" width="1" height="1"/><rect x="550" y="372" width="1" height="1"/><rect x="553" y="372" width="1" height="1"/><rect x="556" y="372" width="1" height="1"/><rect x="559" y="372" width="1" height="1"/><rect x="562" y="372" width="1" height="1"/><rect x="565" y="372" width="1" height="1"/><rect x="568" y="372" width="1" height="1"/><rect x="571" y="372" width="1" height="1"/><rect x="574" y="372" width="1" height="1"/><rect x="577" y="372" width="1" height="1"/><rect x="580" y="372" width="1" height="1"/><rect x="583" y="372" width="1" height="1"/><rect x="586" y="372" width="1" height="1"/><rect x="589" y="372" width="1" height="1"/><rect x="592" y="372" width="1" height="1"/><rect x="595" y="372" width="1" height="1"/><rect x="598" y="372" width="1" height="1"/><rect x="601" y="372" width="1" height="1"/><rect x="604" y="372" width="1" height="1"/><rect x="607" y="372" width="1" height="1"/><rect x="610" y="372" width="1" height="1"/><rect x="613" y="372" width="1" height="1"/><rect x="616" y="372" width="1" height="1"/><rect x="619" y="372" width="1" height="1"/><rect x="622" y="372" width="1" height="1"/><rect x="625" y="372" width="1" height="1"/><rect x="628" y="372" width="1" height="1"/><rect x="631" y="372" width="1" height="1"/><rect x="634" y="372" width="1" height="1"/><rect x="637" y="372" width="1" height="1"/><rect x="640" y="372" width="1" height="1"/><rect x="643" y="372" width="1" height="1"/><rect x="646" y="372" width="1" height="1"/><rect x="649" y="372" width="1" height="1"/><rect x="652" y="372" width="1" height="1"/><rect x="655" y="372" width="1" height="1"/><rect x="658" y="372" width="1" height="1"/><rect x="661" y="372" width="1" height="1"/><rect x="664" y="372" width="1" height="1"/><rect x="667" y="372" width="1" height="1"/><rect x="670" y="372" width="1" height="1"/><rect x="673" y="372" width="1" height="1"/><rect x="676" y="372" width="1" height="1"/><rect x="679" y="372" width="1" height="1"/><rect x="682" y="372" width="1" height="1"/><rect x="685" y="372" width="1" height="1"/><rect x="688" y="372" width="1" height="1"/><rect x="691" y="372" width="1" height="1"/><rect x="694" y="372" width="1" height="1"/><rect x="697" y="372" width="1" height="1"/><rect x="700" y="372" width="1" height="1"/><rect x="703" y="372" width="1" height="1"/><rect x="706" y="372" width="1" height="1"/><rect x="709" y="372" width="1" height="1"/><rect x="712" y="372" width="1" height="1"/><rect x="715" y="372" width="1" height="1"/><rect x="718" y="372" width="1" height="1"/><rect x="721" y="372" width="1" height="1"/><rect x="724" y="372" width="1" height="1"/><rect x="727" y="372" width="1" height="1"/><rect x="730" y="372" width="1" height="1"/><rect x="733" y="372" width="1" height="1"/><rect x="736" y="372" width="1" height="1"/><rect x="739" y="372" width="1" height="1"/><rect x="742" y="372" width="1" height="1"/><rect x="745" y="372" width="1" height="1"/><rect x="748" y="372" width="1" height="1"/><rect x="751" y="372" width="1" height="1"/><rect x="754" y="372" width="1" height="1"/><rect x="757" y="372" width="1" height="1"/><rect x="760" y="372" width="1" height="1"/><rect x="763" y="372" width="1" height="1"/><rect x="766" y="372" width="1" height="1"/><rect x="769" y="372" width="1" height="1"/><rect x="772" y="372" width="1" height="1"/><rect x="775" y="372" width="1" height="1"/><rect x="778" y="372" width="1" height="1"/><rect x="781" y="372" width="1" height="1"/><rect x="784" y="372" width="1" height="1"/><rect x="787" y="372" width="1" height="1"/><rect x="790" y="372" width="1" height="1"/><rect x="793" y="372" width="1" height="1"/><rect x="796" y="372" width="1" height="1"/><rect x="799" y="372" width="1" height="1"/><rect x="802" y="372" width="1" height="1"/><rect x="805" y="372" width="1" height="1"/><rect x="808" y="372" width="1" height="1"/><rect x="811" y="372" width="1" height="1"/><rect x="814" y="372" width="1" height="1"/><rect x="817" y="372" width="1" height="1"/><rect x="820" y="372" width="1" height="1"/><rect x="823" y="372" width="1" height="1"/><rect x="826" y="372" width="1" height="1"/><rect x="829" y="372" width="1" height="1"/><rect x="832" y="372" width="1" height="1"/><rect x="835" y="372" width="1" height="1"/><rect x="838" y="372" width="1" height="1"/><rect x="841" y="372" width="1" height="1"/><rect x="844" y="372" width="1" height="1"/><rect x="847" y="372" width="1" height="1"/><rect x="850" y="372" width="1" height="1"/><rect x="853" y="372" width="1" height="1"/><rect x="856" y="372" width="1" height="1"/><rect x="859" y="372" width="1" height="1"/><rect x="862" y="372" width="1" height="1"/><rect x="865" y="372" width="1" height="1"/><rect x="868" y="372" width="1" height="1"/><rect x="871" y="372" width="1" height="1"/><rect x="874" y="372" width="1" height="1"/><rect x="877" y="372" width="1" height="1"/><rect x="880" y="372" width="1" height="1"/><rect x="883" y="372" width="1" height="1"/><rect x="886" y="372" width="1" height="1"/><rect x="889" y="372" width="1" height="1"/><rect x="892" y="372" width="1" height="1"/><rect x="895" y="372" width="1" height="1"/><rect x="898" y="372" width="1" height="1"/><rect x="901" y="372" width="1" height="1"/><rect x="904" y="372" width="1" height="1"/><rect x="907" y="372" width="1" height="1"/><rect x="910" y="372" width="1" height="1"/><rect x="913" y="372" width="1" height="1"/><rect x="916" y="372" width="1" height="1"/><rect x="919" y="372" width="1" height="1"/><rect x="922" y="372" width="1" height="1"/><rect x="925" y="372" width="1" height="1"/><rect x="928" y="372" width="1" height="1"/><rect x="931" y="372" width="1" height="1"/><rect x="934" y="372" width="1" height="1"/><rect x="937" y="372" width="1" height="1"/><rect x="940" y="372" width="1" height="1"/><rect x="943" y="372" width="1" height="1"/><rect x="946" y="372" width="1" height="1"/><rect x="949" y="372" width="1" height="1"/><rect x="952" y="372" width="1" height="1"/><rect x="955" y="372" width="1" height="1"/><rect x="958" y="372" width="1" height="1"/><rect x="961" y="372" width="1" height="1"/><rect x="964" y="372" width="1" height="1"/><rect x="967" y="372" width="1" height="1"/><rect x="970" y="372" width="1" height="1"/><rect x="973" y="372" width="1" height="1"/><rect x="976" y="372" width="1" height="1"/><rect x="979" y="372" width="1" height="1"/><rect x="982" y="372" width="1" height="1"/><rect x="985" y="372" width="1" height="1"/><rect x="988" y="372" width="1" height="1"/><rect x="991" y="372" width="1" height="1"/><rect x="994" y="372" width="1" height="1"/><rect x="997" y="372" width="1" height="1"/><rect x="1000" y="372" width="1" height="1"/><rect x="1003" y="372" width="1" height="1"/><rect x="1006" y="372" width="1" height="1"/><rect x="1009" y="372" width="1" height="1"/><rect x="1012" y="372" width="1" height="1"/><rect x="1015" y="372" width="1" height="1"/><rect x="1018" y="372" width="1" height="1"/><rect x="1021" y="372" width="1" height="1"/><rect x="1024" y="372" width="1" height="1"/><rect x="1027" y="372" width="1" height="1"/><rect x="1030" y="372" width="1" height="1"/><rect x="1033" y="372" width="1" height="1"/><rect x="1036" y="372" width="1" height="1"/><rect x="1039" y="372" width="1" height="1"/><rect x="1042" y="372" width="1" height="1"/><rect x="1045" y="372" width="1" height="1"/><rect x="1048" y="372" width="1" height="1"/><rect x="1051" y="372" width="1" height="1"/><rect x="1054" y="372" width="1" height="1"/><rect x="1057" y="372" width="1" height="1"/><rect x="1060" y="372" width="1" height="1"/><rect x="1063" y="372" width="1" height="1"/><rect x="1066" y="372" width="1" height="1"/><rect x="1069" y="372" width="1" height="1"/><rect x="1072" y="372" width="1" height="1"/><rect x="1075" y="372" width="1" height="1"/><rect x="1078" y="372" width="1" height="1"/><rect x="1081" y="372" width="1" height="1"/><rect x="1084" y="372" width="1" height="1"/><rect x="1087" y="372" width="1" height="1"/><rect x="1090" y="372" width="1" height="1"/><rect x="1093" y="372" width="1" height="1"/><rect x="1096" y="372" width="1" height="1"/><rect x="1099" y="372" width="1" height="1"/><rect x="1102" y="372" width="1" height="1"/><rect x="1105" y="372" width="1" height="1"/><rect x="1108" y="372" width="1" height="1"/><rect x="1111" y="372" width="1" height="1"/><rect x="1114" y="372" width="1" height="1"/><rect x="1117" y="372" width="1" height="1"/><rect x="1120" y="372" width="1" height="1"/><rect x="1123" y="372" width="1" height="1"/><rect x="1126" y="372" width="1" height="1"/><rect x="1129" y="372" width="1" height="1"/><rect x="1132" y="372" width="1" height="1"/><rect x="1135" y="372" width="1" height="1"/><rect x="1138" y="372" width="1" height="1"/><rect x="1141" y="372" width="1" height="1"/><rect x="1144" y="372" width="1" height="1"/><rect x="1147" y="372" width="1" height="1"/><rect x="1150" y="372" width="1" height="1"/><rect x="1153" y="372" width="1" height="1"/><rect x="1156" y="372" width="1" height="1"/><rect x="1159" y="372" width="1" height="1"/><rect x="1162" y="372" width="1" height="1"/><rect x="1165" y="372" width="1" height="1"/><rect x="1168" y="372" width="1" height="1"/><rect x="1171" y="372" width="1" height="1"/><rect x="1174" y="372" width="1" height="1"/><rect x="1177" y="372" width="1" height="1"/><rect x="1180" y="372" width="1" height="1"/><rect x="1183" y="372" width="1" height="1"/><rect x="1186" y="372" width="1" height="1"/><rect x="1189" y="372" width="1" height="1"/><rect x="1192" y="372" width="1" height="1"/><rect x="1195" y="372" width="1" height="1"/><rect x="1198" y="372" width="1" height="1"/><rect x="1201" y="372" width="1" height="1"/><rect x="1204" y="372" width="1" height="1"/><rect x="1207" y="372" width="1" height="1"/><rect x="1210" y="372" width="1" height="1"/><rect x="1213" y="372" width="1" height="1"/><rect x="1216" y="372" width="1" height="1"/><rect x="1219" y="372" width="1" height="1"/><rect x="1222" y="372" width="1" height="1"/><rect x="1225" y="372" width="1" height="1"/><rect x="1228" y="372" width="1" height="1"/><rect x="1231" y="372" width="1" height="1"/><rect x="1234" y="372" width="1" height="1"/><rect x="1237" y="372" width="1" height="1"/><rect x="1240" y="372" width="1" height="1"/><rect x="1243" y="372" width="1" height="1"/><rect x="1246" y="372" width="1" height="1"/><rect x="1249" y="372" width="1" height="1"/><rect x="1252" y="372" width="1" height="1"/><rect x="1255" y="372" width="1" height="1"/><rect x="1258" y="372" width="1" height="1"/><rect x="1261" y="372" width="1" height="1"/><rect x="1264" y="372" width="1" height="1"/><rect x="1267" y="372" width="1" height="1"/><rect x="1270" y="372" width="1" height="1"/><rect x="1273" y="372" width="1" height="1"/><rect x="1276" y="372" width="1" height="1"/><rect x="1279" y="372" width="1" height="1"/><rect x="1282" y="372" width="1" height="1"/><rect x="1285" y="372" width="1" height="1"/><rect x="1288" y="372" width="1" height="1"/><rect x="1291" y="372" width="1" height="1"/><rect x="1294" y="372" width="1" height="1"/><rect x="1297" y="372" width="1" height="1"/><rect x="1300" y="372" width="1" height="1"/><rect x="1303" y="372" width="1" height="1"/><rect x="1306" y="372" width="1" height="1"/><rect x="1309" y="372" width="1" height="1"/><rect x="1312" y="372" width="1" height="1"/><rect x="1315" y="372" width="1" height="1"/><rect x="1318" y="372" width="1" height="1"/><rect x="1321" y="372" width="1" height="1"/><rect x="1324" y="372" width="1" height="1"/><rect x="1327" y="372" width="1" height="1"/><rect x="1330" y="372" width="1" height="1"/><rect x="1333" y="372" width="1" height="1"/><rect x="1336" y="372" width="1" height="1"/><rect x="1339" y="372" width="1" height="1"/><rect x="1342" y="372" width="1" height="1"/><rect x="1345" y="372" width="1" height="1"/><rect x="1348" y="372" width="1" height="1"/><rect x="1351" y="372" width="1" height="1"/><rect x="1354" y="372" width="1" height="1"/><rect x="1357" y="372" width="1" height="1"/><rect x="1360" y="372" width="1" height="1"/><rect x="1363" y="372" width="1" height="1"/><rect x="1366" y="372" width="1" height="1"/><rect x="1369" y="372" width="1" height="1"/><rect x="1372" y="372" width="1" height="1"/><rect x="1375" y="372" width="1" height="1"/><rect x="1378" y="372" width="1" height="1"/><rect x="1381" y="372" width="1" height="1"/><rect x="1384" y="372" width="1" height="1"/><rect x="1387" y="372" width="1" height="1"/><rect x="1390" y="372" width="1" height="1"/><rect x="1393" y="372" width="1" height="1"/><rect x="1396" y="372" width="1" height="1"/><rect x="1399" y="372" width="1" height="1"/><rect x="1402" y="372" width="1" height="1"/><rect x="1405" y="372" width="1" height="1"/><rect x="1408" y="372" width="1" height="1"/><rect x="1411" y="372" width="1" height="1"/><rect x="1414" y="372" width="1" height="1"/><rect x="1417" y="372" width="1" height="1"/><rect x="1420" y="372" width="1" height="1"/><rect x="1423" y="372" width="1" height="1"/><rect x="1426" y="372" width="1" height="1"/><rect x="1429" y="372" width="1" height="1"/><rect x="1432" y="372" width="1" height="1"/><rect x="1435" y="372" width="1" height="1"/><rect x="1438" y="372" width="1" height="1"/><rect x="1441" y="372" width="1" height="1"/><rect x="1444" y="372" width="1" height="1"/><rect x="1447" y="372" width="1" height="1"/><rect x="1450" y="372" width="1" height="1"/><rect x="1453" y="372" width="1" height="1"/><rect x="1456" y="372" width="1" height="1"/><rect x="1459" y="372" width="1" height="1"/><rect x="1462" y="372" width="1" height="1"/><rect x="1465" y="372" width="1" height="1"/><rect x="1468" y="372" width="1" height="1"/><rect x="1471" y="372" width="1" height="1"/><rect x="1474" y="372" width="1" height="1"/><rect x="1477" y="372" width="1" height="1"/><rect x="1480" y="372" width="1" height="1"/><rect x="1483" y="372" width="1" height="1"/><rect x="1486" y="372" width="1" height="1"/><rect x="1489" y="372" width="1" height="1"/><rect x="1492" y="372" width="1" height="1"/><rect x="1495" y="372" width="1" height="1"/><rect x="1498" y="372" width="1" height="1"/><rect x="1501" y="372" width="1" height="1"/><rect x="1504" y="372" width="1" height="1"/><rect x="1507" y="372" width="1" height="1"/><rect x="1510" y="372" width="1" height="1"/><rect x="1513" y="372" width="1" height="1"/><rect x="1516" y="372" width="1" height="1"/><rect x="1519" y="372" width="1" height="1"/><rect x="1522" y="372" width="1" height="1"/><rect x="1525" y="372" width="1" height="1"/><rect x="1528" y="372" width="1" height="1"/><rect x="1531" y="372" width="1" height="1"/><rect x="1534" y="372" width="1" height="1"/><rect x="1537" y="372" width="1" height="1"/><rect x="1540" y="372" width="1" height="1"/><rect x="1543" y="372" width="1" height="1"/><rect x="1546" y="372" width="1" height="1"/><rect x="1549" y="372" width="1" height="1"/><rect x="1552" y="372" width="1" height="1"/><rect x="1555" y="372" width="1" height="1"/><rect x="1558" y="372" width="1" height="1"/><rect x="1561" y="372" width="1" height="1"/><rect x="1564" y="372" width="1" height="1"/><rect x="1567" y="372" width="1" height="1"/><rect x="1570" y="372" width="1" height="1"/><rect x="1573" y="372" width="1" height="1"/><rect x="1576" y="372" width="1" height="1"/><rect x="1579" y="372" width="1" height="1"/><rect x="1582" y="372" width="1" height="1"/><rect x="1585" y="372" width="1" height="1"/><rect x="1588" y="372" width="1" height="1"/><rect x="1591" y="372" width="1" height="1"/><rect x="1594" y="372" width="1" height="1"/><rect x="1597" y="372" width="1" height="1"/><rect x="1600" y="372" width="1" height="1"/><rect x="1603" y="372" width="1" height="1"/><rect x="1606" y="372" width="1" height="1"/><rect x="1609" y="372" width="1" height="1"/><rect x="1612" y="372" width="1" height="1"/><rect x="1615" y="372" width="1" height="1"/><rect x="1618" y="372" width="1" height="1"/><rect x="1621" y="372" width="1" height="1"/><rect x="1624" y="372" width="1" height="1"/><rect x="1627" y="372" width="1" height="1"/><rect x="1630" y="372" width="1" height="1"/><rect x="1633" y="372" width="1" height="1"/><rect x="1636" y="372" width="1" height="1"/><rect x="1639" y="372" width="1" height="1"/><rect x="1642" y="372" width="1" height="1"/><rect x="1645" y="372" width="1" height="1"/><rect x="1648" y="372" width="1" height="1"/><rect x="1651" y="372" width="1" height="1"/><rect x="1654" y="372" width="1" height="1"/><rect x="1657" y="372" width="1" height="1"/><rect x="1660" y="372" width="1" height="1"/><rect x="1663" y="372" width="1" height="1"/><rect x="1666" y="372" width="1" height="1"/><rect x="1669" y="372" width="1" height="1"/><rect x="1672" y="372" width="1" height="1"/><rect x="1675" y="372" width="1" height="1"/><rect x="1678" y="372" width="1" height="1"/><rect x="1681" y="372" width="1" height="1"/><rect x="1684" y="372" width="1" height="1"/><rect x="1687" y="372" width="1" height="1"/><rect x="1690" y="372" width="1" height="1"/><rect x="1693" y="372" width="1" height="1"/><rect x="1696" y="372" width="1" height="1"/><rect x="1699" y="372" width="1" height="1"/><rect x="1702" y="372" width="1" height="1"/><rect x="1705" y="372" width="1" height="1"/><rect x="1708" y="372" width="1" height="1"/><rect x="1711" y="372" width="1" height="1"/><rect x="1714" y="372" width="1" height="1"/><rect x="1717" y="372" width="1" height="1"/><rect x="1720" y="372" width="1" height="1"/><rect x="1723" y="372" width="1" height="1"/><rect x="1726" y="372" width="1" height="1"/><rect x="1729" y="372" width="1" height="1"/><rect x="1732" y="372" width="1" height="1"/><rect x="1735" y="372" width="1" height="1"/><rect x="1738" y="372" width="1" height="1"/><rect x="1741" y="372" width="1" height="1"/><rect x="1744" y="372" width="1" height="1"/><rect x="1747" y="372" width="1" height="1"/><rect x="1750" y="372" width="1" height="1"/><rect x="1753" y="372" width="1" height="1"/><rect x="1756" y="372" width="1" height="1"/><rect x="1759" y="372" width="1" height="1"/><rect x="1762" y="372" width="1" height="1"/><rect x="1765" y="372" width="1" height="1"/><rect x="1768" y="372" width="1" height="1"/><rect x="1771" y="372" width="1" height="1"/><rect x="1774" y="372" width="1" height="1"/><rect x="1777" y="372" width="1" height="1"/><rect x="1780" y="372" width="1" height="1"/><rect x="1783" y="372" width="1" height="1"/><rect x="1786" y="372" width="1" height="1"/><rect x="1789" y="372" width="1" height="1"/><rect x="1792" y="372" width="1" height="1"/></g>
</g>
</g>
<text x="1802.6" y="59.0" textLength="58.2" lengthAdjust="spacingAndGlyphs">132.500,00</text>
<text x="1802.6" y="96.0" textLength="58.2" lengthAdjust="spacingAndGlyphs">130.000,00</text>
<text x="1802.6" y="132.0" textLength="58.2" lengthAdjust="spacingAndGlyphs">127.500,00</text>
<text x="1802.6" y="169.0" textLength="58.2" lengthAdjust="spacingAndGlyphs">125.000,00</text>
<text x="1802.6" y="205.0" textLength="58.2" lengthAdjust="spacingAndGlyphs">122.500,00</text>
<text x="1802.6" y="242.0" textLength="58.2" lengthAdjust="spacingAndGlyphs">120.000,00</text>
<text x="1802.6" y="278.0" textLength="58.2" lengthAdjust="spacingAndGlyphs">117.500,00</text>
<text x="1802.6" y="315.0" textLength="58.2" lengthAdjust="spacingAndGlyphs">115.000,00</text>
<text x="1802.6" y="352.0" textLength="58.2" lengthAdjust="spacingAndGlyphs">112.500,00</text>
<text x="1802.6" y="388.0" textLength="58.2" lengthAdjust="spacingAndGlyphs">110.000,00</text>
<text x="1802.6" y="425.0" textLength="58.2" lengthAdjust="spacingAndGlyphs">107.500,00</text>
<text x="1802.6" y="461.0" textLength="58.2" lengthAdjust="spacingAndGlyphs">105.000,00</text>
<text x="1802.6" y="498.0" textLength="58.2" lengthAdjust="spacingAndGlyphs">102.500,00</text>
<text x="1802.6" y="534.0" textLength="58.2" lengthAdjust="spacingAndGlyphs">100.000,00</text>
<text x="1802.6" y="571.0" textLength="52.3" lengthAdjust="spacingAndGlyphs">97.500,00</text>
<text x="1802.6" y="607.0" textLength="52.3" lengthAdjust="spacingAndGlyphs">95.000,00</text>
<text x="1802.6" y="644.0" textLength="52.3" lengthAdjust="spacingAndGlyphs">92.500,00</text>
<text x="1802.6" y="680.0" textLength="52.3" lengthAdjust="spacingAndGlyphs">90.000,00</text>
<text x="1802.6" y="717.0" textLength="52.3" lengthAdjust="spacingAndGlyphs">87.500,00</text>
<text x="1802.6" y="754.0" textLength="52.3" lengthAdjust="spacingAndGlyphs">85.000,00</text>
<text x="1802.6" y="790.0" textLength="52.3" lengthAdjust="spacingAndGlyphs">82.500,00</text>
<path d="M1795 260h70a2 2 0 0 1 2 2v13a2 2 0 0 1-2 2h-70z" fill="#2962ff"/>
<text class="b w" x="1802.3" y="271.8" textLength="58.8" lengthAdjust="spacingAndGlyphs">117.931,72</text>
<path d="M1795 364h70a2 2 0 0 1 2 2v13a2 2 0 0 1-2 2h-70z" fill="#089981"/>
<text class="b w" x="1802.3" y="375.8" textLength="58.8" lengthAdjust="spacingAndGlyphs">110.838,99</text>
<path d="M1795 800h43a2 2 0 0 1 2 2v13a2 2 0 0 1-2 2h-43z" fill="#26a69a"/>
<text class="b w" x="1802" y="811.7" textLength="32.4" lengthAdjust="spacingAndGlyphs">5,33&#8201;K</text>
<text x="121.2" y="839.3" text-anchor="middle" textLength="18.5" lengthAdjust="spacingAndGlyphs">Şub</text>
<text x="236.2" y="839.3" text-anchor="middle" textLength="19.3" lengthAdjust="spacingAndGlyphs">Mar</text>
<text x="363.2" y="839.3" text-anchor="middle" textLength="16.4" lengthAdjust="spacingAndGlyphs">Nis</text>
<text x="485.2" y="839.3" text-anchor="middle" textLength="21.1" lengthAdjust="spacingAndGlyphs">May</text>
<text x="612.2" y="839.3" text-anchor="middle" textLength="20.1" lengthAdjust="spacingAndGlyphs">Haz</text>
<text x="735.2" y="839.3" text-anchor="middle" textLength="21.8" lengthAdjust="spacingAndGlyphs">Tem</text>
<text x="862.2" y="839.3" text-anchor="middle" textLength="20.1" lengthAdjust="spacingAndGlyphs">Ağu</text>
<text x="989.2" y="839.3" text-anchor="middle" textLength="17.0" lengthAdjust="spacingAndGlyphs">Eyl</text>
<text x="1111.2" y="839.3" text-anchor="middle" textLength="15.6" lengthAdjust="spacingAndGlyphs">Eki</text>
<text x="1238.2" y="839.3" text-anchor="middle" textLength="17.8" lengthAdjust="spacingAndGlyphs">Kas</text>
<text x="1361.2" y="839.3" text-anchor="middle" textLength="17.8" lengthAdjust="spacingAndGlyphs">Ara</text>
<text class="b" x="1488.2" y="839.3" text-anchor="middle" textLength="27.1" lengthAdjust="spacingAndGlyphs">2026</text>
<text x="1615.2" y="839.3" text-anchor="middle" textLength="18.5" lengthAdjust="spacingAndGlyphs">Şub</text>
<text x="1729.2" y="839.3" text-anchor="middle" textLength="19.3" lengthAdjust="spacingAndGlyphs">Mar</text>
<text x="10.4" y="19" textLength="364.5" lengthAdjust="spacingAndGlyphs">TradingView.com ile Eyl 28, 2025 23:59 UTC+3 tarihinde oluşturuldu</text>
<text x="18.2" y="46.0" textLength="178.2" lengthAdjust="spacingAndGlyphs">Bitcoin / TetherUS · 1G · Binance</text>
<text x="204.0" y="46.0" textLength="7.2" lengthAdjust="spacingAndGlyphs">A</text>
<text class="g" x="211.7" y="46.0" textLength="58.2" lengthAdjust="spacingAndGlyphs">109.635,85</text>
<text x="277.4" y="46.0" textLength="7.8" lengthAdjust="spacingAndGlyphs">Y</text>
<text class="g" x="285.7" y="46.0" textLength="57.7" lengthAdjust="spacingAndGlyphs">110.945,00</text>
<text x="351.2" y="46.0" textLength="7.0" lengthAdjust="spacingAndGlyphs">D</text>
<text class="g" x="358.7" y="46.0" textLength="58.3" lengthAdjust="spacingAndGlyphs">109.189,99</text>
<text x="425.2" y="46.0" textLength="7.1" lengthAdjust="spacingAndGlyphs">K</text>
<text class="g" x="432.7" y="46.0" textLength="57.5" lengthAdjust="spacingAndGlyphs">110.838,99</text>
<text class="g" x="498.0" y="46.0" textLength="101.3" lengthAdjust="spacingAndGlyphs">+1.203,14 (+1,10%)</text>
<text x="18.2" y="63.0" textLength="65.5" lengthAdjust="spacingAndGlyphs">Hacim · BTC</text>
<text class="t" x="91.8" y="63.0" textLength="31.5" lengthAdjust="spacingAndGlyphs">5,33&#8201;K</text>
<g transform="translate(12.2,867.7) scale(0.834,0.82)" fill="#0f0f0f"><path d="M14 22H7V11H0V4h14v18zM28 22h-8l7.5-18h8L28 22z"/><circle cx="20" cy="7.8" r="3.6"/></g>
<text class="b" x="49.4" y="885.7" style="font-size:20px;fill:#0f0f0f;stroke:#0f0f0f;stroke-width:0.45px;stroke-linejoin:round" textLength="120" lengthAdjust="spacingAndGlyphs">TradingView</text>
</svg></body></html>
